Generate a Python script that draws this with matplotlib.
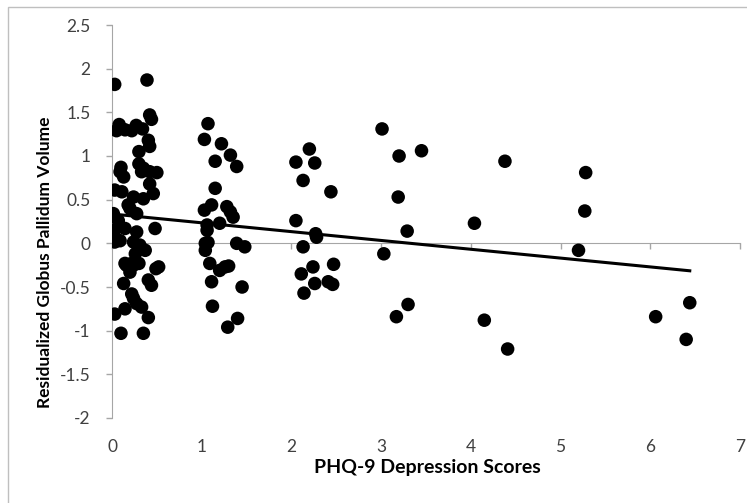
import numpy as np
import matplotlib
matplotlib.use("Agg")
from matplotlib import pyplot as plt
from matplotlib.patches import Rectangle

# PHQ-9 score (jittered) vs residualized globus pallidus volume
phq_0 = [0.03, 0.39, 0.42, 0.44, 0.08, 0.05, 0.145, 0.22, 0.27, 0.34, 0.405, 0.42,
         0.30, 0.10, 0.30, 0.35, 0.42, 0.50, 0.13, 0.09, 0.33, 0.03, 0.11, 0.24,
         0.35, 0.46, 0.42, 0.015, 0.18, 0.20, 0.275, 0.07, 0.03, 0.145, 0.48, 0.275,
         0.03, 0.09, 0.24, 0.31, 0.26, 0.37, 0.145, 0.22, 0.30, 0.52, 0.16, 0.24,
         0.20, 0.49, 0.13, 0.405, 0.44, 0.22, 0.24, 0.275, 0.33, 0.145, 0.03, 0.405,
         0.10, 0.35]
vol_0 = [1.82, 1.87, 1.47, 1.42, 1.36, 1.29, 1.30, 1.29, 1.35, 1.31, 1.18, 1.11,
         1.05, 0.87, 0.91, 0.86, 0.82, 0.81, 0.76, 0.82, 0.82, 0.61, 0.59, 0.53,
         0.51, 0.57, 0.68, 0.34, 0.44, 0.40, 0.34, 0.26, 0.15, 0.17, 0.17, 0.13,
         0.015, 0.03, 0.015, -0.02, -0.12, -0.08, -0.23, -0.23, -0.23, -0.27, -0.25, -0.25,
         -0.33, -0.29, -0.46, -0.42, -0.48, -0.58, -0.63, -0.69, -0.73, -0.75, -0.81, -0.85,
         -1.03, -1.03]

phq_1 = [1.07, 1.03, 1.22, 1.32, 1.15, 1.39, 1.15, 1.11, 1.03, 1.28, 1.32, 1.35,
         1.06, 1.20, 1.06, 1.04, 1.07, 1.04, 1.39, 1.48, 1.09, 1.20, 1.26, 1.30,
         1.11, 1.45, 1.12, 1.40, 1.29]
vol_1 = [1.37, 1.19, 1.14, 1.01, 0.94, 0.88, 0.63, 0.44, 0.38, 0.42, 0.36, 0.30,
         0.21, 0.23, 0.15, 0.00, 0.01, -0.08, 0.00, -0.04, -0.23, -0.31, -0.27, -0.26,
         -0.44, -0.50, -0.72, -0.86, -0.96]

phq_2 = [2.05, 2.20, 2.26, 2.13, 2.44, 2.05, 2.27, 2.28, 2.13, 2.11, 2.24, 2.47,
         2.26, 2.41, 2.46, 2.14]
vol_2 = [0.93, 1.08, 0.92, 0.72, 0.59, 0.26, 0.11, 0.07, -0.04, -0.35, -0.27, -0.24,
         -0.46, -0.44, -0.47, -0.57]

phq_3up = [3.01, 3.20, 3.45, 3.19, 3.29, 3.03, 3.30, 3.17, 4.38, 4.04, 4.15, 4.41,
           5.20, 5.28, 5.27, 6.44, 6.06, 6.40]
vol_3up = [1.31, 1.00, 1.06, 0.53, 0.14, -0.12, -0.70, -0.84, 0.94, 0.23, -0.88, -1.21,
           -0.08, 0.81, 0.37, -0.68, -0.84, -1.10]

phq = np.array(phq_0 + phq_1 + phq_2 + phq_3up)
vol = np.array(vol_0 + vol_1 + vol_2 + vol_3up)

# linear trendline as drawn in the figure
trend_intercept = 0.336
trend_slope = -0.101

x_ticks = [0, 1, 2, 3, 4, 5, 6, 7]
y_ticks = [-2, -1.5, -1, -0.5, 0, 0.5, 1, 1.5, 2, 2.5]
y_tick_labels = ["-2", "-1.5", "-1", "-0.5", "0", "0.5", "1", "1.5", "2", "2.5"]

plt.rcParams['font.family'] = ['Lato', 'DejaVu Sans']
axis_grey = '#a6a6a6'
text_grey = '#404040'

fig = plt.figure(figsize=(7.47, 5.03), dpi=100)
fig.patches.append(Rectangle((8/747, -0.1), 1.2, 1 - 7/503 + 0.1, transform=fig.transFigure,
                             fill=False, edgecolor='#bfbfbf', linewidth=1.0))
ax = fig.add_axes([112/747, 1 - 418/503, 628/747, 393/503])

ax.scatter(phq, vol, s=95, c='black', edgecolors='none', zorder=3)

xt = np.array([phq.min(), phq.max()])
ax.plot(xt, trend_intercept + trend_slope * xt, color='black', linewidth=2.2, zorder=4)

ax.set_xlim(0, 7)
ax.set_ylim(-2, 2.5)

for s in ['top', 'right']:
    ax.spines[s].set_visible(False)
ax.spines['left'].set_color(axis_grey)
ax.spines['bottom'].set_color(axis_grey)
ax.spines['bottom'].set_position(('data', 0))

ax.set_yticks(y_ticks)
ax.set_yticklabels(y_tick_labels)
ax.tick_params(axis='y', direction='out', length=4.5, width=1, color=axis_grey,
               labelsize=12.5, labelcolor=text_grey, pad=11)
ax.set_xticks(x_ticks)
ax.tick_params(axis='x', direction='out', length=4.5, width=1, color=axis_grey,
               labelbottom=False)

sec = ax.secondary_xaxis(0)
sec.set_xticks(x_ticks)
sec.spines['bottom'].set_visible(False)
sec.tick_params(axis='x', length=0, labelsize=12.5, labelcolor=text_grey, pad=15)

fig.text(427/747, 1 - 467/503, 'PHQ-9 Depression Scores', ha='center', va='center',
         fontsize=14, fontweight='bold', color='black')
fig.text(45/747, 1 - 262/503, 'Residualized Globus Pallidum Volume', ha='center', va='center',
         rotation=90, fontsize=12.5, fontweight='bold', color='black')

fig.savefig('out.png', dpi=100)
